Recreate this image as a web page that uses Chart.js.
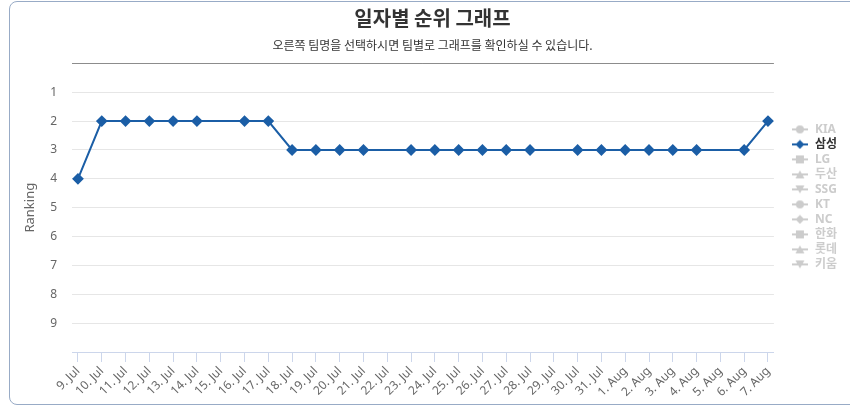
<!DOCTYPE html>
<html>
<head>
<meta charset="utf-8">
<script src="https://cdn.jsdelivr.net/npm/chart.js@4"></script>
<style>
    body { margin: 0; background: #fff; }
    #card {
        position: absolute; left: 9px; top: 1px; width: 860px; height: 404px;
        border: 1.5px solid #98abc6; border-radius: 8px; box-sizing: border-box;
    }
    #rankChart { position: absolute; left: 0; top: 0; }
</style>
</head>
<body>
<div id="card"></div>
<canvas id="rankChart" width="850" height="410"></canvas>
<script>
const dates = ['9. Jul', '10. Jul', '11. Jul', '12. Jul', '13. Jul', '14. Jul', '15. Jul', '16. Jul',
    '17. Jul', '18. Jul', '19. Jul', '20. Jul', '21. Jul', '22. Jul', '23. Jul', '24. Jul', '25. Jul',
    '26. Jul', '27. Jul', '28. Jul', '29. Jul', '30. Jul', '31. Jul', '1. Aug', '2. Aug', '3. Aug',
    '4. Aug', '5. Aug', '6. Aug', '7. Aug'];
const teams = ['KIA', '삼성', 'LG', '두산', 'SSG', 'KT', 'NC', '한화', '롯데', '키움'];
// only 삼성 is switched on; no game on the null days (line just spans them)
const samsungRanks = [4, 2, 2, 2, 2, 2, null, 2, 2, 3, 3, 3, 3, null, 3, 3, 3, 3, 3, 3, null,
    3, 3, 3, 3, 3, 3, null, 3, 2];
const yTicks = [1, 2, 3, 4, 5, 6, 7, 8, 9];

const BLUE = '#1b5ea6';
const GREY = '#cccccc';
const shapes = ['circle', 'rectRot', 'rect', 'triangle', 'triangleDown'];

// small legend symbol: line with the marker on it
function legendSymbol(shape, color) {
    const c = document.createElement('canvas');
    c.width = 16; c.height = 10;
    const g = c.getContext('2d');
    g.strokeStyle = color; g.fillStyle = color; g.lineWidth = 2;
    g.beginPath(); g.moveTo(0, 5); g.lineTo(16, 5); g.stroke();
    g.beginPath();
    if (shape === 'circle') g.arc(8, 5, 4, 0, Math.PI * 2);
    else if (shape === 'rectRot') { g.moveTo(8, 0.5); g.lineTo(12.5, 5); g.lineTo(8, 9.5); g.lineTo(3.5, 5); }
    else if (shape === 'rect') g.rect(4, 1, 8, 8);
    else if (shape === 'triangle') { g.moveTo(8, 1); g.lineTo(12.5, 9); g.lineTo(3.5, 9); }
    else { g.moveTo(3.5, 1); g.lineTo(12.5, 1); g.lineTo(8, 9); }
    g.closePath(); g.fill();
    return c;
}

const datasets = teams.map((team, i) => {
    const on = team === '삼성';
    return {
        label: team,
        data: on ? samsungRanks.map((v, k) => ({ x: k, y: v })) : [],
        hidden: !on,
        borderColor: BLUE, backgroundColor: BLUE,
        borderWidth: 2, pointStyle: shapes[i % 5], pointRadius: 4.5, pointHoverRadius: 6,
        spanGaps: true, tension: 0
    };
});

const FONT = "'Noto Sans', 'Noto Sans CJK KR', sans-serif";

new Chart(document.getElementById('rankChart'), {
    type: 'line',
    data: { datasets },
    options: {
        responsive: false,
        animation: false,
        layout: { padding: { left: 18, right: 3, top: 0, bottom: 0 } },
        plugins: {
            title: {
                display: true, text: '일자별 순위 그래프', color: '#333',
                font: { family: "'Noto Sans CJK KR', sans-serif", size: 20, weight: 'bold' },
                padding: { top: 6, bottom: 7 }
            },
            subtitle: {
                display: true, text: '오른쪽 팀명을 선택하시면 팀별로 그래프를 확인하실 수 있습니다.', color: '#333',
                font: { family: "'Noto Sans CJK KR', sans-serif", size: 12 },
                padding: { top: 1, bottom: 11 }
            },
            legend: {
                position: 'right', align: 'start',
                title: { display: true, text: '', font: { size: 12 }, padding: { top: 106, bottom: 0 } },
                labels: {
                    usePointStyle: true, pointStyleWidth: 18, padding: 3,
                    font: { family: FONT, size: 12, weight: 'bold' },
                    generateLabels: chart => chart.data.datasets.map((ds, i) => ({
                        text: ds.label,
                        datasetIndex: i,
                        hidden: false,
                        fontColor: ds.hidden ? GREY : '#333',
                        pointStyle: legendSymbol(ds.pointStyle, ds.hidden ? GREY : BLUE),
                        lineWidth: 0
                    }))
                }
            },
            tooltip: { enabled: false }
        },
        scales: {
            x: {
                type: 'linear', min: -0.25, max: 29.25,
                afterBuildTicks: axis => { axis.ticks = dates.map((d, i) => ({ value: i })); },
                afterFit: axis => { axis.height = 58; },
                ticks: {
                    callback: v => dates[v], color: '#666', autoSkip: false,
                    minRotation: 45, maxRotation: 45, padding: 2,
                    font: { family: FONT, size: 12 }
                },
                grid: { drawOnChartArea: false, drawTicks: true, tickLength: 10, color: '#ccd6eb' },
                border: { color: '#ccd6eb', width: 1 }
            },
            y: {
                reverse: true, min: 0, max: 10,
                afterBuildTicks: axis => { axis.ticks = [0].concat(yTicks, [10]).map(v => ({ value: v })); },
                afterFit: axis => { axis.width = 54; },
                ticks: {
                    callback: v => (yTicks.includes(v) ? String(v) : ''),
                    color: '#666', padding: 15, font: { family: FONT, size: 12 }
                },
                grid: {
                    drawTicks: false,
                    color: ctx => (ctx.tick.value === 0 ? '#8c8c8c' : ctx.tick.value === 10 ? 'rgba(0,0,0,0)' : '#e6e6e6')
                },
                border: { display: false },
                title: { display: true, text: 'Ranking', color: '#666', font: { family: FONT, size: 13 } }
            },
            gap: {
                type: 'linear', position: 'right',
                afterFit: axis => { axis.width = 14; },
                ticks: { display: false },
                grid: { drawOnChartArea: false, drawTicks: false },
                border: { display: false }
            }
        }
    }
});
</script>
</body>
</html>
